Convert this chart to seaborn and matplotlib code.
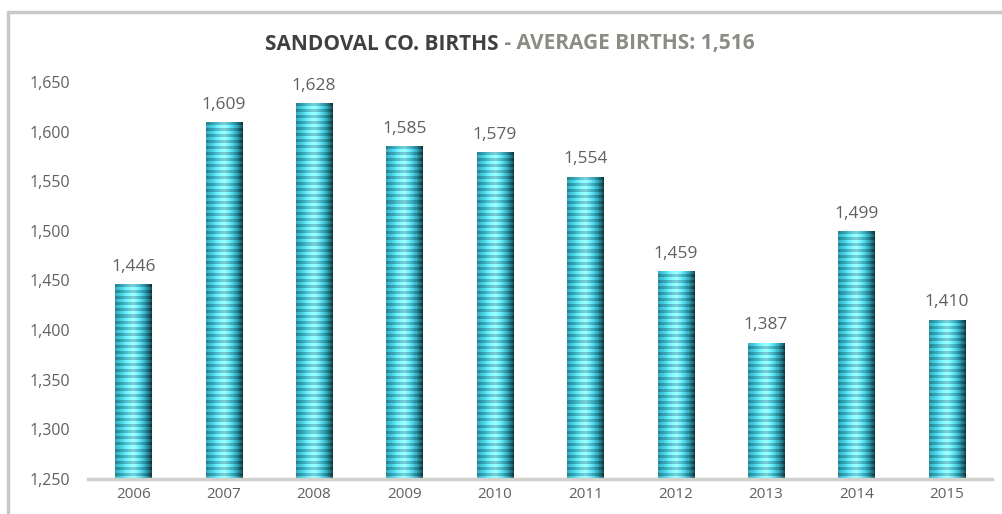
import numpy as np
import pandas as pd
import matplotlib
matplotlib.use("Agg")
import matplotlib.pyplot as plt
import seaborn as sns
from matplotlib.colors import LinearSegmentedColormap

years = ["2006", "2007", "2008", "2009", "2010", "2011", "2012", "2013", "2014", "2015"]
births = [1446, 1609, 1628, 1585, 1579, 1554, 1459, 1387, 1499, 1410]
yticks = [1250, 1300, 1350, 1400, 1450, 1500, 1550, 1600, 1650]
title_main = "SANDOVAL CO. BIRTHS"
title_sub = " - AVERAGE BIRTHS: 1,516"

sns.set_theme(style="white")
plt.rcParams["font.family"] = ["Open Sans", "DejaVu Sans"]

df = pd.DataFrame({"year": years, "births": births})

fig = plt.figure(figsize=(10.03, 5.14), dpi=100)
ax = fig.add_axes([88 / 1003, 1 - 479 / 514, (992 - 88) / 1003, (479 - 82) / 514])
ax.set_facecolor("white")

sns.barplot(data=df, x="year", y="births", color="#3bb8c8", width=0.4,
            ax=ax, saturation=1, zorder=2)

ymin, ymax = 1250, 1650

# cylinder-like gradient + horizontal stripes texture on bars
cmap = LinearSegmentedColormap.from_list(
    "cyl", ["#2a8c9c", "#34b2c4", "#5fd0de", "#86e2ec", "#4cc3d3", "#2590a2", "#0e3940"])
nx = 64
xs = np.linspace(0, 1, nx)
for patch in ax.patches:
    x0 = patch.get_x()
    w = patch.get_width()
    top = patch.get_y() + patch.get_height()
    bottom = ymin
    rows = max(int(((top - bottom) / 50) * 49.6 / 3), 4)
    base = np.tile(xs, (rows, 1))
    img = cmap(base)
    st = (np.arange(rows) % 2 == 0)[:, None]
    img[..., :3] = np.where(st[..., None], np.clip(img[..., :3] * 1.12 + 0.05, 0, 1),
                            img[..., :3] * 0.92)
    ax.imshow(img, extent=[x0, x0 + w, bottom, top], aspect="auto",
              origin="lower", zorder=3, interpolation="nearest")
    patch.set_edgecolor("none")
ax.set_ylim(ymin, ymax)
ax.set_xlim(-0.5, len(years) - 0.5)

for i, v in enumerate(births):
    ax.text(i, v + 14, f"{v:,}", ha="center", va="baseline", fontsize=12.5,
            color="#606060", zorder=5)

ax.set_yticks(yticks)
ax.set_yticklabels([f"{t:,}" for t in yticks], color="#606060", fontsize=11.5)
ax.set_xticks(range(len(years)))
ax.set_xticklabels(years, color="#606060", fontsize=11)
ax.tick_params(axis="y", pad=13, length=0)
ax.tick_params(axis="x", pad=6, length=0)
ax.set_xlabel("")
ax.set_ylabel("")
for s in ["top", "right", "left"]:
    ax.spines[s].set_visible(False)
ax.spines["bottom"].set_color("#d0d0cc")
ax.spines["bottom"].set_linewidth(2.5)
ax.spines["bottom"].set_zorder(6)
ax.grid(False)

# title in two colours
t1 = fig.text(0.5, 1 - 44 / 514, title_main, fontsize=15, fontweight="bold",
              color="#404040", ha="left", va="center")
t2 = fig.text(0.5, 1 - 44 / 514, title_sub, fontsize=15, fontweight="bold",
              color="#8c8c84", ha="left", va="center")
fig.canvas.draw()
r = fig.canvas.get_renderer()
w1 = t1.get_window_extent(r).width
w2 = t2.get_window_extent(r).width
start = 510 - (w1 + w2) / 2
t1.set_x(start / 1003)
t2.set_x((start + w1) / 1003)

# outer frame lines (top and left)
fig.add_artist(plt.Line2D([8 / 1003, 1.0], [1 - 12 / 514, 1 - 12 / 514],
                          color="#c8c8c8", lw=2.5, transform=fig.transFigure))
fig.add_artist(plt.Line2D([8 / 1003, 8 / 1003], [0, 1 - 12 / 514],
                          color="#c8c8c8", lw=2.5, transform=fig.transFigure))

fig.savefig("out.png", dpi=100, facecolor="white")
